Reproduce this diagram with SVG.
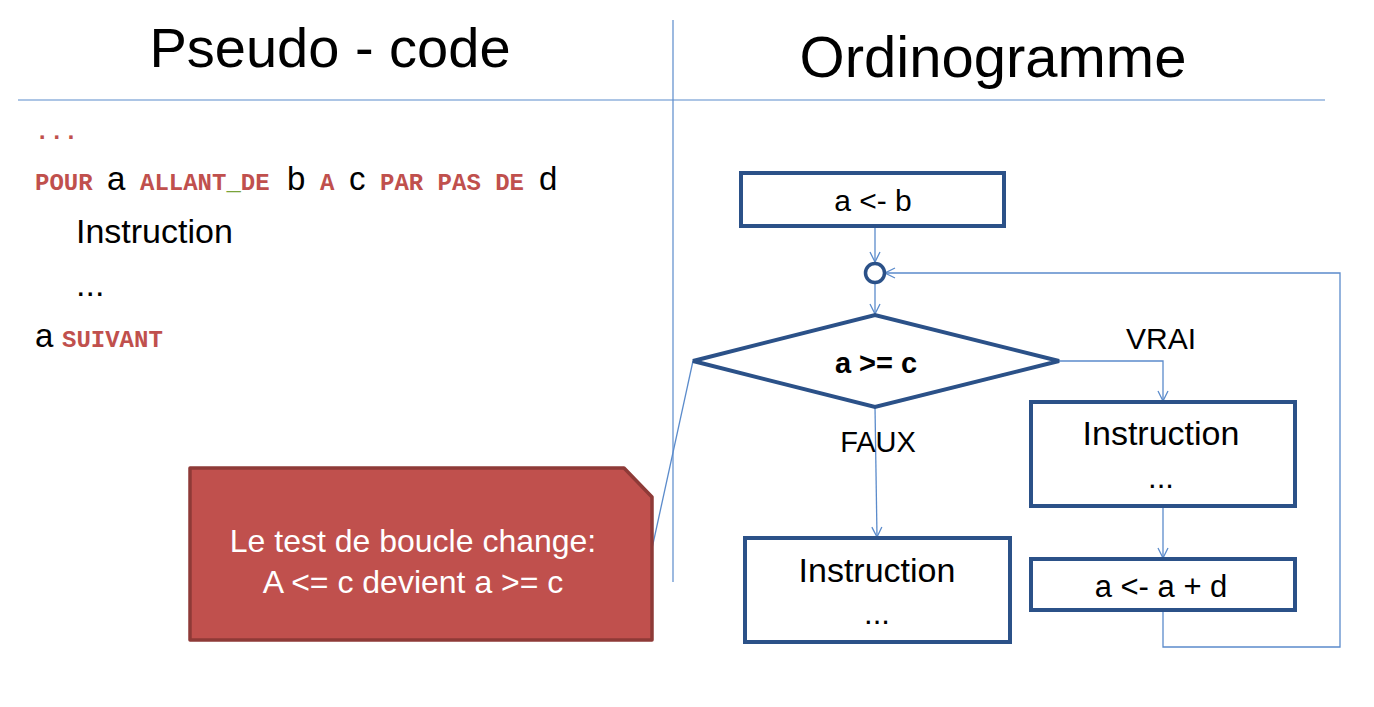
<svg xmlns="http://www.w3.org/2000/svg" width="1374" height="707" viewBox="0 0 1374 707">
<style>
.t{font-family:"Liberation Sans",Arial,sans-serif;fill:#000}
.k{font-family:"Liberation Mono","Courier New",monospace;font-weight:bold;fill:#C0504D;font-size:24px}
.box{fill:#fff;stroke:#2B5188;stroke-width:4}
.c{fill:none;stroke:#5B8BCB;stroke-width:1.3}
.rule{stroke:#5B8BCB;stroke-width:1.2}
</style>
<defs>
<marker id="ar" viewBox="0 0 12 12" refX="11" refY="6" markerWidth="12" markerHeight="12" markerUnits="userSpaceOnUse" orient="auto">
<polyline points="1,1 11,6 1,11" fill="none" stroke="#5B8BCB" stroke-width="1.3"/>
</marker>
</defs>
<rect width="1374" height="707" fill="#fff"/>
<g id="titles">
<text class="t" x="330" y="67" font-size="56" text-anchor="middle">Pseudo - code</text>
<text class="t" x="993" y="77" font-size="58" text-anchor="middle">Ordinogramme</text>
<line class="rule" x1="18" y1="100" x2="1325" y2="100"/>
<line class="rule" x1="673" y1="20" x2="673" y2="582"/>
</g>
<g id="pseudocode">
<text class="k" x="35" y="139">...</text>
<text x="35" y="190"><tspan class="k">POUR</tspan><tspan class="t" x="107" font-size="33">a</tspan><tspan class="k" x="140">ALLANT<tspan fill="#7AA33A">_</tspan>DE</tspan><tspan class="t" x="287" font-size="33">b</tspan><tspan class="k" x="320">A</tspan><tspan class="t" x="349" font-size="33">c</tspan><tspan class="k" x="380">PAR PAS DE</tspan><tspan class="t" x="539" font-size="33">d</tspan></text>
<text class="t" x="76" y="243" font-size="34">Instruction</text>
<text class="t" x="76" y="296" font-size="34">...</text>
<text x="35" y="347"><tspan class="t" font-size="33">a</tspan><tspan class="k" x="62">SUIVANT</tspan></text>
</g>
<g id="connectors">
<line class="c" x1="875" y1="226" x2="875" y2="262" marker-end="url(#ar)"/>
<line class="c" x1="875" y1="284" x2="875" y2="314" marker-end="url(#ar)"/>
<polyline class="c" points="1059,361 1163,361 1163,401" marker-end="url(#ar)"/>
<line class="c" x1="875" y1="407" x2="877" y2="537" marker-end="url(#ar)"/>
<line class="c" x1="1163" y1="506" x2="1163" y2="558" marker-end="url(#ar)"/>
<polyline class="c" points="1163,610 1163,647 1340,647 1340,273 885,273" marker-end="url(#ar)"/>
<line class="c" x1="651" y1="553" x2="693" y2="361"/>
</g>
<g id="n-init">
<rect class="box" x="741" y="173" width="263" height="53"/>
<text class="t" x="873" y="211" font-size="30" text-anchor="middle">a &lt;- b</text>
</g>
<g id="n-join">
<circle cx="875" cy="273" r="9.5" fill="#fff" stroke="#2B5188" stroke-width="3.5"/>
</g>
<g id="n-test">
<polygon class="box" points="693,361 875,315 1059,361 875,407"/>
<text class="t" x="876" y="373" font-size="29" font-weight="bold" text-anchor="middle">a &gt;= c</text>
</g>
<g id="labels">
<text class="t" x="1161" y="349" font-size="30" text-anchor="middle">VRAI</text>
<text class="t" x="878" y="452" font-size="29" text-anchor="middle">FAUX</text>
</g>
<g id="n-body">
<rect class="box" x="1031" y="402" width="264" height="104"/>
<text class="t" x="1161" y="445" font-size="34" text-anchor="middle">Instruction</text>
<text class="t" x="1161" y="488" font-size="31" text-anchor="middle">...</text>
</g>
<g id="n-incr">
<rect class="box" x="1031" y="559" width="264" height="51"/>
<text class="t" x="1161" y="597" font-size="31" text-anchor="middle">a &lt;- a + d</text>
</g>
<g id="n-after">
<rect class="box" x="745" y="538" width="265" height="104"/>
<text class="t" x="877" y="582" font-size="34" text-anchor="middle">Instruction</text>
<text class="t" x="877" y="624" font-size="31" text-anchor="middle">...</text>
</g>
<g id="callout">
<polygon points="190,468 624,468 652,497 652,640 190,640" fill="#C0504D" stroke="#8E3A37" stroke-width="3.5" stroke-linejoin="round"/>
<text class="t" x="413" y="552" font-size="32" style="fill:#fff" text-anchor="middle">Le test de boucle change:</text>
<text class="t" x="413" y="593" font-size="32" style="fill:#fff" text-anchor="middle">A &lt;= c devient a &gt;= c</text>
</g>
</svg>
